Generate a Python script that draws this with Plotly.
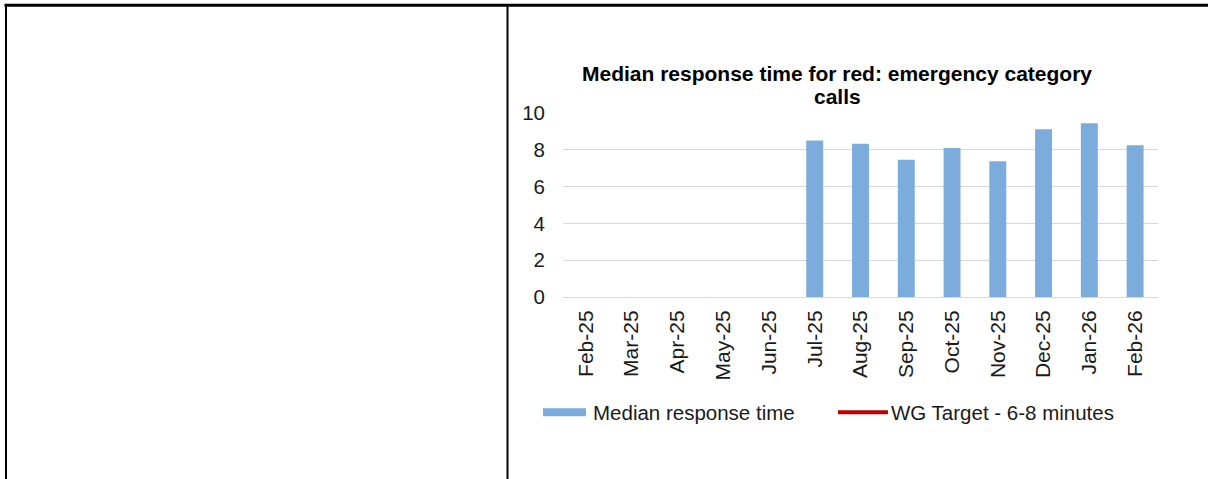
import plotly.graph_objects as go

# Monthly median response times (minutes) for red: emergency category calls
months = ["Feb-25", "Mar-25", "Apr-25", "May-25", "Jun-25", "Jul-25", "Aug-25",
          "Sep-25", "Oct-25", "Nov-25", "Dec-25", "Jan-26", "Feb-26"]
median_response = [None, None, None, None, None, 8.5, 8.33, 7.46, 8.1, 7.38, 9.12, 9.44, 8.25]
wg_target = [None] * len(months)

title_lines = ["Median response time for red: emergency category", "calls"]
series_names = ["Median response time", "WG Target - 6-8 minutes"]
y_ticks = [0, 2, 4, 6, 8, 10]

BAR_BLUE = "#7BACDC"
TARGET_RED = "#C00000"
TEXT = "#1a1a1a"
FONT = "Liberation Sans, Arial, sans-serif"

W, H = 1208, 479
PL, PR, PT, PB = 563, 1158, 113, 297.5   # plot area in pixels


def px_x(p):
    return (p - PL) / (PR - PL)


def px_y(p):
    return (PB - p) / (PB - PT)


fig = go.Figure()
fig.add_trace(go.Bar(x=months, y=median_response, name=series_names[0],
                     marker=dict(color=BAR_BLUE, line=dict(width=0)),
                     showlegend=False))
fig.add_trace(go.Scatter(x=months, y=wg_target, name=series_names[1], mode="lines",
                         line=dict(color=TARGET_RED, width=4), showlegend=False))

shapes = []
# table cell borders
border = dict(type="line", xref="paper", yref="paper", line=dict(color="black"))
shapes.append({**border, "x0": px_x(4.5), "x1": px_x(1210), "y0": px_y(5), "y1": px_y(5),
               "line": dict(color="black", width=3)})
shapes.append({**border, "x0": px_x(6), "x1": px_x(6), "y0": px_y(4), "y1": px_y(482),
               "line": dict(color="black", width=2)})
shapes.append({**border, "x0": px_x(507.5), "x1": px_x(507.5), "y0": px_y(4), "y1": px_y(482),
               "line": dict(color="black", width=2)})

# legend keys
shapes.append(dict(type="rect", xref="paper", yref="paper",
                   x0=px_x(543), x1=px_x(586), y0=px_y(409), y1=px_y(417),
                   fillcolor=BAR_BLUE, line=dict(width=0)))
shapes.append(dict(type="line", xref="paper", yref="paper",
                   x0=px_x(838), x1=px_x(888), y0=px_y(413), y1=px_y(413),
                   line=dict(color=TARGET_RED, width=4)))

annotations = []
for line, yc in zip(title_lines, [73, 96]):
    annotations.append(dict(text=f"<b>{line}</b>", xref="paper", yref="paper",
                            x=px_x(837), y=px_y(yc), xanchor="center", yanchor="middle",
                            showarrow=False, font=dict(family=FONT, size=21, color="black")))
annotations.append(dict(text=series_names[0], xref="paper", yref="paper",
                        x=px_x(591), y=px_y(413), xanchor="left", yanchor="middle",
                        showarrow=False, font=dict(family=FONT, size=20.5, color=TEXT)))
annotations.append(dict(text=series_names[1], xref="paper", yref="paper",
                        x=px_x(889), y=px_y(413), xanchor="left", yanchor="middle",
                        showarrow=False, font=dict(family=FONT, size=20.5, color=TEXT)))

fig.update_layout(
    width=W, height=H,
    margin=dict(l=PL, r=W - PR, t=PT, b=H - PB, pad=0),
    paper_bgcolor="white", plot_bgcolor="white",
    bargap=0.63,
    shapes=shapes,
    annotations=annotations,
    font=dict(family=FONT, size=20, color=TEXT),
)
fig.update_xaxes(type="category", categoryorder="array", categoryarray=months,
                 tickangle=-90, showgrid=False, showline=True, linecolor="#d9d9d9",
                 linewidth=1, ticks="", ticklabelstandoff=4,
                 tickfont=dict(family=FONT, size=21, color=TEXT))
fig.update_yaxes(range=[0, 10], tickvals=y_ticks, showgrid=True, gridcolor="#d9d9d9",
                 gridwidth=1, zeroline=False, showline=False, ticks="",
                 ticklabelstandoff=17, tickfont=dict(family=FONT, size=20.5, color=TEXT))

fig.write_html("out.html")
